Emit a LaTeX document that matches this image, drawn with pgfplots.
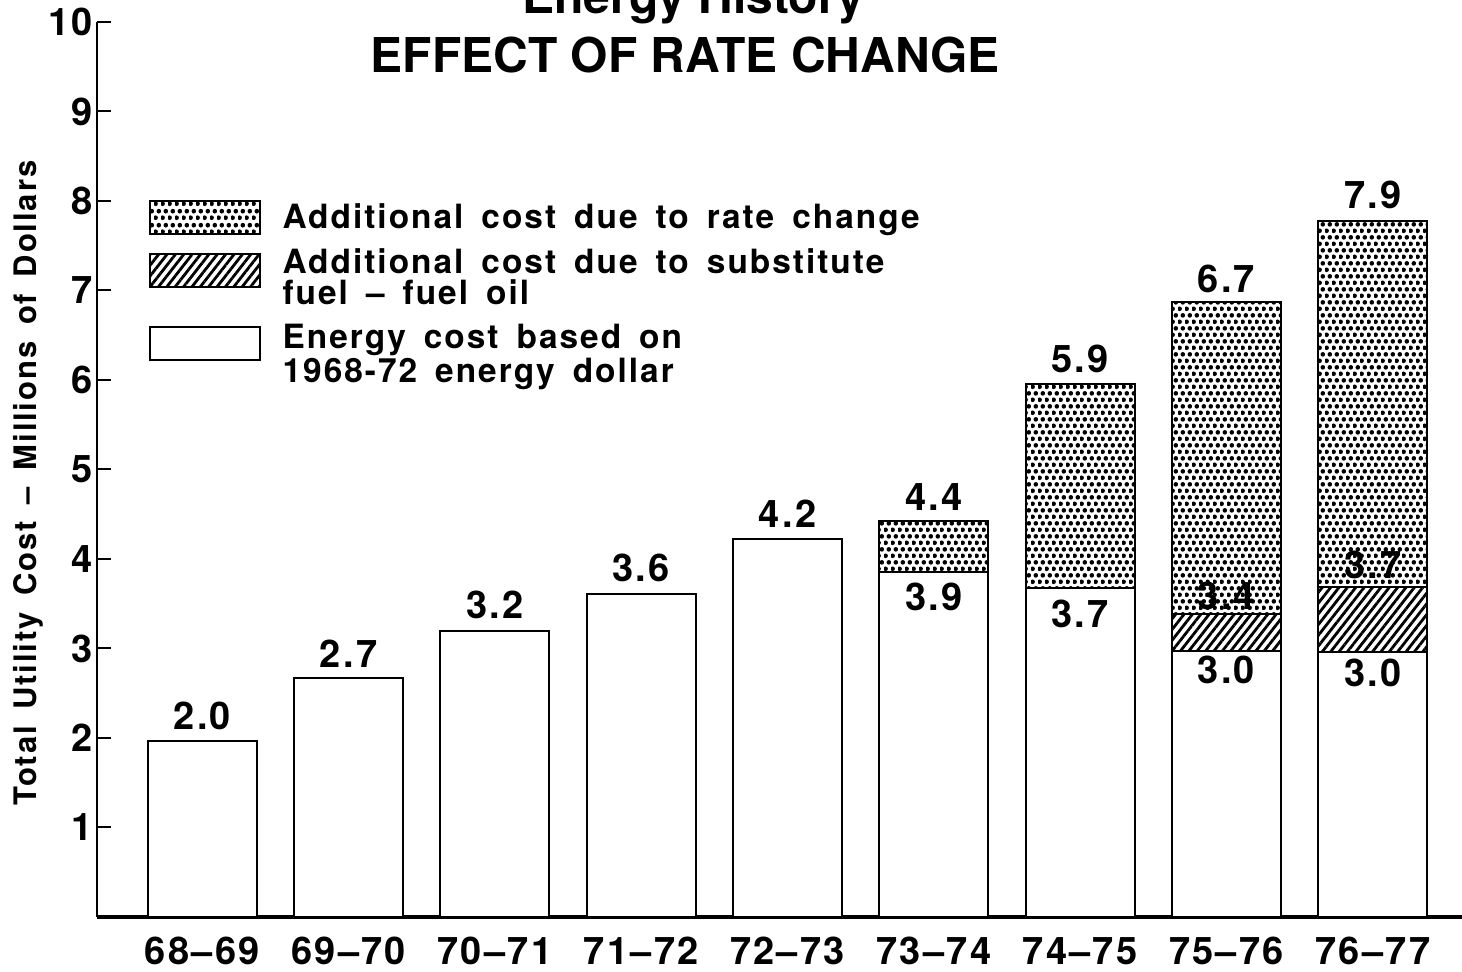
\documentclass[border=0pt]{standalone}
\usepackage{fontspec}
\setmainfont{TeX Gyre Heros}
\newfontfamily\hv[LetterSpace=6,WordSpace=1.6]{TeX Gyre Heros}
\usepackage{pgfplots}
\pgfplotsset{compat=1.18}
\usepackage{pgfplotstable}
\usetikzlibrary{patterns,patterns.meta}

\pgfdeclarepattern{
  name=mydots,
  type=uncolored,
  bottom left={\pgfpointorigin},
  top right={\pgfpoint{3.35pt}{6.7pt}},
  tile size={\pgfpoint{3.35pt}{6.7pt}},
  code={
    \pgfpathcircle{\pgfpoint{0.84pt}{1.675pt}}{1.2pt}
    \pgfpathcircle{\pgfpoint{2.51pt}{5.025pt}}{1.2pt}
    \pgfusepath{fill}
  }
}

\pgfplotstableread{
x base subst rate
0 1.97 0 0
1 2.67 0 0
2 3.20 0 0
3 3.61 0 0
4 4.22 0 0
5 3.85 0 0.57
6 3.68 0 2.28
7 2.97 0.42 3.48
8 2.96 0.73 4.09
}\costdata

\pgfplotsset{
  lgbox/.style={legend image code/.code={\draw[##1,line width=1pt] (0pt,-8.25pt) rectangle (55pt,8.25pt);}},
  lgboxup/.style={legend image code/.code={\draw[##1,line width=1pt] (0pt,-4.75pt) rectangle (55pt,11.75pt);}},
  lgboxupp/.style={legend image code/.code={\draw[##1,line width=1pt] (0pt,-2.5pt) rectangle (55pt,14pt);}}
}
\tikzset{vl/.style={font=\hv\bfseries\fontsize{19}{21}\selectfont, inner sep=0pt}}

\begin{document}
\begin{tikzpicture}
\begin{axis}[
  scale only axis, width=682.5pt, height=447.5pt,
  xmin=-0.72, xmax=8.61, ymin=0, ymax=10,
  ybar stacked, bar width=54.5pt,
  axis x line*=bottom, axis y line*=left,
  x axis line style={line width=2pt,-},
  y axis line style={line width=1pt,-},
  xtick={0,...,8},
  xticklabels={68–69,69–70,70–71,71–72,72–73,73–74,74–75,75–76,76–77},
  x tick style={draw=none},
  ytick={1,...,10},
  y tick style={line width=1pt, black},
  tick align=inside, major tick length=7pt,
  /pgf/number format/assume math mode=true,
  yticklabel style={font=\hv\bfseries\fontsize{19}{21}\selectfont, inner sep=0pt, xshift=-2pt},
  xticklabel style={font=\hv\bfseries\fontsize{19}{20}\selectfont, inner sep=0pt, anchor=north, yshift=-10pt},
  ylabel={Total Utility Cost – Millions of Dollars},
  ylabel style={at={(axis description cs:-0.0506,0.485)}, anchor=center, font=\hv\bfseries\fontsize{15.5}{18}\selectfont},
  clip=false,
  reverse legend,
  legend cell align=left,
  legend style={at={(axis cs:-0.37,8.02)}, anchor=north west, draw=none, fill=none,
    inner sep=0pt, row sep=4.5pt, column sep=9pt,
    cells={align=left, inner sep=0pt},
    font=\hv\bfseries\fontsize{16.7}{15.5}\selectfont},
]
\addplot[draw=black, line width=1pt, fill=white, lgboxupp] table[x=x, y=base] {\costdata};
\addlegendentry{Energy cost based on\\1968-72 energy dollar}
\addplot[draw=black, line width=1pt, pattern={Lines[angle=52,distance=3.3pt,line width=1.4pt]}, pattern color=black, lgboxup] table[x=x, y=subst] {\costdata};
\addlegendentry{Additional cost due to substitute\\fuel – fuel oil}
\addplot[draw=black, line width=1pt, pattern=mydots, pattern color=black, lgbox] table[x=x, y=rate] {\costdata};
\addlegendentry{Additional cost due to rate change}

\coordinate (bl) at (rel axis cs:0,0);
\coordinate (L1) at (axis cs:0,2.25);
\coordinate (L2) at (axis cs:1,2.94);
\coordinate (L3) at (axis cs:2,3.49);
\coordinate (L4) at (axis cs:3,3.90);
\coordinate (L5) at (axis cs:4,4.50);
\coordinate (L6) at (axis cs:5,4.69);
\coordinate (L7) at (axis cs:5,3.58);
\coordinate (L8) at (axis cs:6,6.23);
\coordinate (L9) at (axis cs:6,3.39);
\coordinate (L10) at (axis cs:7,7.13);
\coordinate (L11) at (axis cs:7,3.59);
\coordinate (L12) at (axis cs:7,2.76);
\coordinate (L13) at (axis cs:8,8.07);
\coordinate (L14) at (axis cs:8,3.93);
\coordinate (L15) at (axis cs:8,2.73);

\node[anchor=base, font=\bfseries\fontsize{24}{28}\selectfont] at (axis description cs:0.437,1.009) {Energy History};
\node[anchor=base, font=\bfseries\fontsize{24}{28}\selectfont] at (axis description cs:0.431,0.944) {EFFECT OF RATE CHANGE};
\end{axis}
\node[vl] at (L1) {2.0};
\node[vl] at (L2) {2.7};
\node[vl] at (L3) {3.2};
\node[vl] at (L4) {3.6};
\node[vl] at (L5) {4.2};
\node[vl] at (L6) {4.4};
\node[vl] at (L7) {3.9};
\node[vl] at (L8) {5.9};
\node[vl] at (L9) {3.7};
\node[vl] at (L10) {6.7};
\node[vl] at (L11) {3.4};
\node[vl] at (L12) {3.0};
\node[vl] at (L13) {7.9};
\node[vl] at (L14) {3.7};
\node[vl] at (L15) {3.0};
\pgfresetboundingbox
\path[use as bounding box] ([shift={(-48.5pt,-27.5pt)}]bl) rectangle ([shift={(682.5pt,458.5pt)}]bl);
\end{tikzpicture}
\end{document}
